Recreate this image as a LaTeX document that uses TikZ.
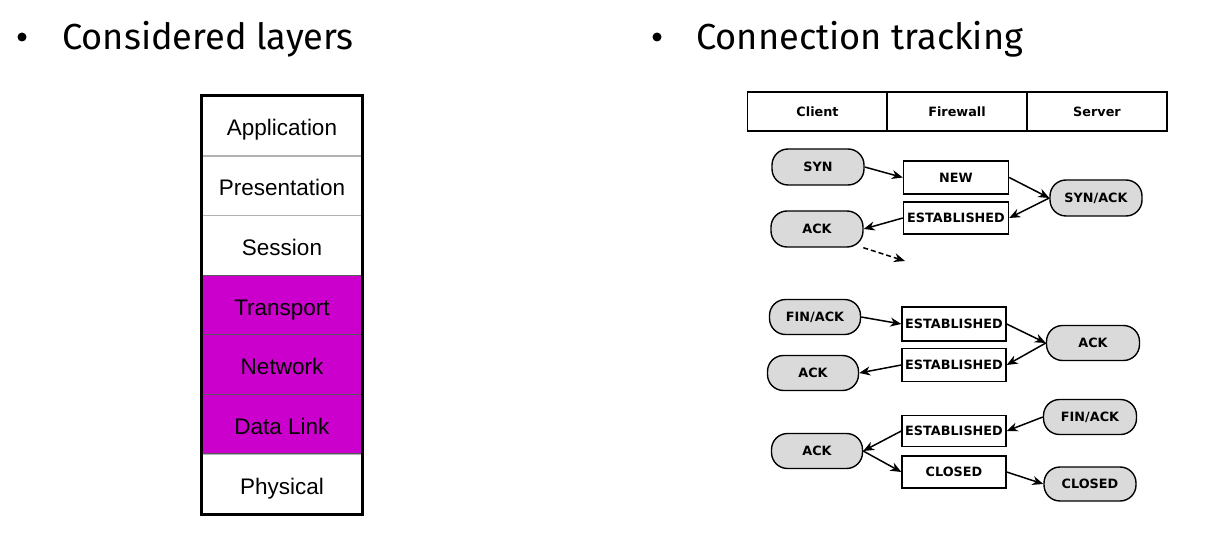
\documentclass[tikz,border=0pt]{standalone}
\usepackage{fontspec}
\setmainfont{Fira Sans}
\newfontfamily\layerfont{Liberation Sans}
\newfontfamily\diagfont{DejaVu Sans}
\usetikzlibrary{arrows.meta}
\definecolor{mag}{HTML}{CC00CC}
\definecolor{pill}{HTML}{DADADA}
\begin{document}
\begin{tikzpicture}[x=1pt,y=-1pt,
  title/.style={anchor=base west,font=\fontsize{36.2}{42}\selectfont,inner sep=0pt},
  bul/.style={circle,fill=black,inner sep=0pt,minimum size=9pt},
  layer/.style={draw=gray!60,line width=1pt,minimum width=160pt,minimum height=59.7pt,text height=20pt,text depth=0pt,font=\layerfont\fontsize{22.5}{27}\selectfont,inner sep=0pt},
  dfont/.style={font=\diagfont\bfseries\fontsize{12.8}{15}\selectfont},
  hdr/.style={draw,line width=1.6pt,minimum width=139.7pt,minimum height=39pt,dfont,inner sep=0pt},
  state/.style={draw,line width=1.4pt,minimum width=105pt,minimum height=33pt,dfont,inner sep=0pt},
  pkt/.style={draw,line width=1.4pt,fill=pill,rounded corners=16pt,minimum width=92pt,minimum height=36pt,dfont,inner sep=0pt},
  arr/.style={-{Stealth[length=11pt,width=9pt,inset=3.5pt]},line width=1.5pt}
]
\useasboundingbox[fill=white] (0,0) rectangle (1214,537);

% titles
\node[bul] (b1) at (22,37) {};
\node[title] (t1) at (62,50) {Considered layers};
\node[bul] (b2) at (657,37) {};
\node[title] (t2) at (696,50) {Connection tracking};

% layer stack
\node[layer] (app) at (282,126) {Application};
\node[layer] (pre) at (282,186) {Presentation};
\node[layer] (ses) at (282,245.5) {Session};
\node[layer,fill=mag,draw=black!65] (tra) at (282,305) {Transport};
\node[layer,fill=mag,draw=black!65] (net) at (282,364.5) {Network};
\node[layer,fill=mag,draw=black!65] (dl) at (282,424) {Data Link};
\node[layer] (phy) at (282,484) {Physical};
\draw[line width=3pt] (app.north west) rectangle (phy.south east);

% header
\node[hdr] (cli) at (817.5,111.5) {Client};
\node[hdr] (fw) at (957,111.5) {Firewall};
\node[hdr] (srv) at (1097,111.5) {Server};

% handshake
\node[pkt] (syn) at (818,167) {SYN};
\node[state] (new) at (956,177.5) {NEW};
\node[pkt] (synack) at (1096,198) {SYN/ACK};
\node[state,minimum height=32pt] (est1) at (956,218) {ESTABLISHED};
\node[pkt] (ack1) at (817,229) {ACK};
\coordinate (dashend) at (905,261);
\draw[arr] (syn.east) -- (new.west);
\draw[arr] (new.east) -- (synack.west);
\draw[arr] (synack.west) -- (est1.east);
\draw[arr] (est1.west) -- (ack1.east);
\draw[arr,dash pattern=on 5pt off 3pt] (ack1.-22) -- (dashend);

% teardown part 1
\node[pkt,minimum width=91pt,minimum height=35pt] (fin1) at (815,317) {FIN/ACK};
\node[state,minimum width=104pt,minimum height=34pt] (est2) at (954,324) {ESTABLISHED};
\node[pkt,minimum width=93pt,minimum height=35pt] (ack2) at (1093,343) {ACK};
\node[state,minimum width=104pt,minimum height=33pt] (est3) at (954,365) {ESTABLISHED};
\node[pkt,minimum width=91pt,minimum height=35pt] (ack3) at (813,373) {ACK};
\draw[arr] (fin1.east) -- (est2.west);
\draw[arr] (est2.east) -- (ack2.west);
\draw[arr] (ack2.west) -- (est3.east);
\draw[arr] (est3.west) -- (ack3.east);

% teardown part 2
\node[pkt,minimum width=93pt,minimum height=35pt] (fin2) at (1090,417) {FIN/ACK};
\node[state,minimum width=104pt,minimum height=31pt] (est4) at (954,431) {ESTABLISHED};
\node[pkt,minimum width=91pt,minimum height=35pt] (ack4) at (817,451) {ACK};
\node[state,minimum width=104pt,minimum height=32pt] (clo) at (954,472) {CLOSED};
\node[pkt,minimum width=92pt,minimum height=34pt] (clo2) at (1090,484) {CLOSED};
\draw[arr] (fin2.west) -- (est4.east);
\draw[arr] (est4.west) -- (ack4.east);
\draw[arr] (ack4.east) -- (clo.west);
\draw[arr] (clo.east) -- (clo2.west);
\end{tikzpicture}
\end{document}
